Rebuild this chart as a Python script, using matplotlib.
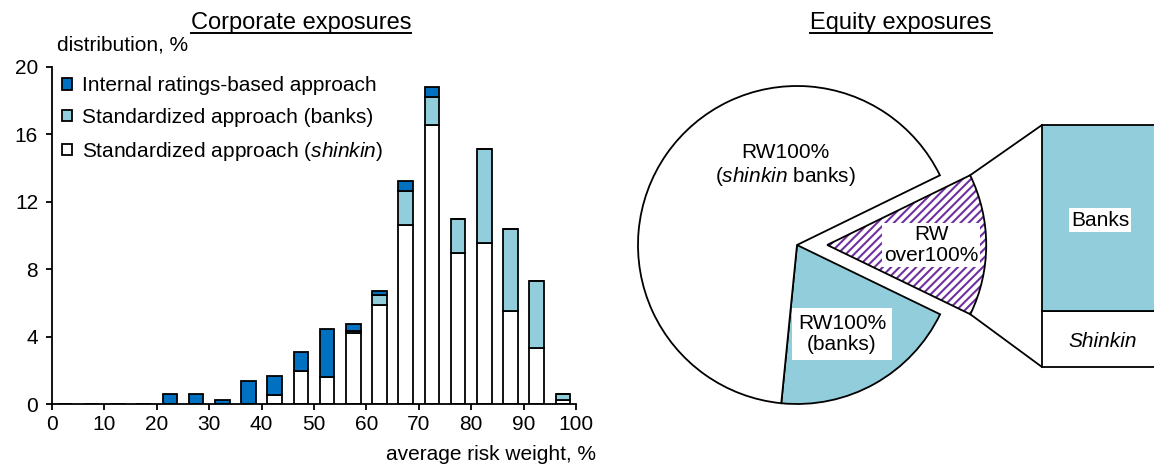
import matplotlib
matplotlib.use("Agg")
import matplotlib.pyplot as plt
from matplotlib.patches import Wedge
from matplotlib.lines import Line2D
import numpy as np

plt.rcParams["font.family"] = ["Liberation Sans", "DejaVu Sans"]
plt.rcParams["mathtext.fontset"] = "custom"
plt.rcParams["mathtext.rm"] = "Liberation Sans"
plt.rcParams["mathtext.it"] = "Liberation Sans:italic"
plt.rcParams["hatch.linewidth"] = 1.5

FS = 15

# Corporate exposures: distribution by average risk weight (5% bins)
bin_centers = [2.5, 7.5, 12.5, 17.5, 22.5, 27.5, 32.5, 37.5, 42.5, 47.5,
               52.5, 57.5, 62.5, 67.5, 72.5, 77.5, 82.5, 87.5, 92.5, 97.5]
std_shinkin = [0, 0, 0, 0, 0, 0, 0, 0, 0.55, 1.93,
               1.62, 4.19, 5.88, 10.64, 16.55, 8.98, 9.58, 5.53, 3.30, 0.22]
std_banks = [0, 0, 0, 0, 0, 0, 0, 0, 0, 0,
             0, 0.15, 0.60, 1.98, 1.67, 2.00, 5.54, 4.85, 4.00, 0.35]
irb = [0, 0, 0, 0, 0.59, 0.59, 0.22, 1.38, 1.09, 1.13,
       2.86, 0.40, 0.25, 0.63, 0.60, 0, 0, 0, 0, 0]

# Equity exposures
pie_labels = ["RW over100%", "RW100% (banks)", "RW100% (shinkin banks)"]
pie_shares = [14.4, 19.4, 66.2]
bar_labels = ["Shinkin", "Banks"]
bar_shares = [23.1, 76.9]

DARK_BLUE = "#0070C0"
LIGHT_BLUE = "#92CDDC"
PURPLE = "#7030A0"

W, H = 1154, 466
fig = plt.figure(figsize=(W / 100, H / 100), dpi=100)


def px_rect(x0, y0, x1, y1):
    # pixel box (top-left origin) -> figure fraction rect
    return [x0 / W, 1 - y1 / H, (x1 - x0) / W, (y1 - y0) / H]


# ---- left: stacked bars ----
ax = fig.add_axes(px_rect(52, 67, 576, 404))
s = np.array(std_shinkin)
b = np.array(std_banks)
i = np.array(irb)
kw = dict(width=2.8, edgecolor="black", linewidth=1.3)
h_sh = ax.bar(bin_centers, s, color="white", **kw)
h_bk = ax.bar(bin_centers, b, bottom=s, color=LIGHT_BLUE, **kw)
h_irb = ax.bar(bin_centers, i, bottom=s + b, color=DARK_BLUE, **kw)

ax.set_xlim(0, 100)
ax.set_ylim(0, 20)
ax.set_xticks(range(0, 101, 10))
ax.set_yticks(range(0, 21, 4))
ax.tick_params(direction="out", length=4, width=1.3, labelsize=FS, pad=4)
ax.tick_params(axis="y", pad=6)
for side in ["top", "right"]:
    ax.spines[side].set_visible(False)
for side in ["left", "bottom"]:
    ax.spines[side].set_linewidth(1.3)

ax.legend([h_irb, h_bk, h_sh],
          ["Internal ratings-based approach", "Standardized approach (banks)",
           r"Standardized approach ($\it{shinkin}$)"],
          loc="upper left", bbox_to_anchor=(62 / W, 1 - 76 / H),
          bbox_transform=fig.transFigure, frameon=False, fontsize=FS,
          handlelength=0.5, handleheight=0.5, handletextpad=0.45,
          labelspacing=0.62, borderpad=0, borderaxespad=0)

fig.text(57 / W, 1 - 45 / H, "distribution, %", fontsize=FS, va="center", ha="left")
fig.text(596 / W, 1 - 455 / H, "average risk weight, %", fontsize=FS, va="center", ha="right")

# ---- right: pie with bar ----
cx, cy, r_px = 797, 245, 159
ax2 = fig.add_axes(px_rect(600, 0, W, H))
wedges, _ = ax2.pie(pie_shares, startangle=26, counterclock=False,
                    explode=[0.19, 0, 0],
                    colors=["white", LIGHT_BLUE, "white"],
                    wedgeprops=dict(edgecolor="black", linewidth=1.3))
ax2.set_xlim((600 - cx) / r_px, (W - cx) / r_px)
ax2.set_ylim((cy - H) / r_px, cy / r_px)
ax2.set_aspect("equal", adjustable="box")
ax2.axis("off")

hw = wedges[0]
hw.set_edgecolor(PURPLE)
hw.set_linewidth(0)
hw.set_hatch("////")
ax2.add_patch(Wedge(hw.center, hw.r, hw.theta1, hw.theta2, fill=False,
                    edgecolor="black", linewidth=1.3))

bar_left = (1042 - cx) / r_px
bar_bottom = (cy - 367) / r_px
bar_h = (367 - 125) / r_px
bar_w = 1.0
heights = [v / sum(bar_shares) * bar_h for v in bar_shares]
bottoms = [bar_bottom, bar_bottom + heights[0]]
ax2.bar([bar_left] * 2, heights, width=bar_w, bottom=bottoms, align="edge",
        color=["white", LIGHT_BLUE], edgecolor="black", linewidth=1.3)

# connector lines from exploded wedge to bar
wc = np.array(hw.center)
for ang, yb in [(hw.theta2, bar_bottom + bar_h), (hw.theta1, bar_bottom)]:
    p = wc + hw.r * np.array([np.cos(np.radians(ang)), np.sin(np.radians(ang))])
    ax2.plot([p[0], bar_left], [p[1], yb], color="black", linewidth=1.3)

box = dict(facecolor="white", edgecolor="none", pad=1.5)
ax2.text(-0.075, 0.50, "RW100%\n(" + r"$\it{shinkin}$" + " banks)", fontsize=FS,
         ha="center", va="center", linespacing=1.15)
ax2.text(0.843, 0.0, "RW\nover100%", fontsize=FS, ha="center", va="center",
         linespacing=1.15, bbox=box)
ax2.text(0.283, -0.56, "RW100%\n(banks)", fontsize=FS, ha="center", va="center",
         linespacing=1.15, bbox=dict(facecolor="white", edgecolor="none", pad=4))
ax2.text(1.906, 0.157, "Banks", fontsize=FS, ha="center", va="center", bbox=box)
ax2.text(1.925, -0.61, "Shinkin", fontsize=FS, ha="center", va="center", style="italic")

# ---- underlined titles ----
titles = [("Corporate exposures", 301), ("Equity exposures", 901)]
fig.canvas.draw()
renderer = fig.canvas.get_renderer()
for txt, xc in titles:
    t = fig.text(xc / W, 1 - 29 / H, txt, fontsize=17, ha="center", va="baseline")
    bb = t.get_window_extent(renderer)
    yline = 1 - 32.5 / H
    fig.add_artist(Line2D([bb.x0 / W, bb.x1 / W], [yline, yline],
                          transform=fig.transFigure, color="black", linewidth=1.4))

fig.savefig("out.png", dpi=100)
